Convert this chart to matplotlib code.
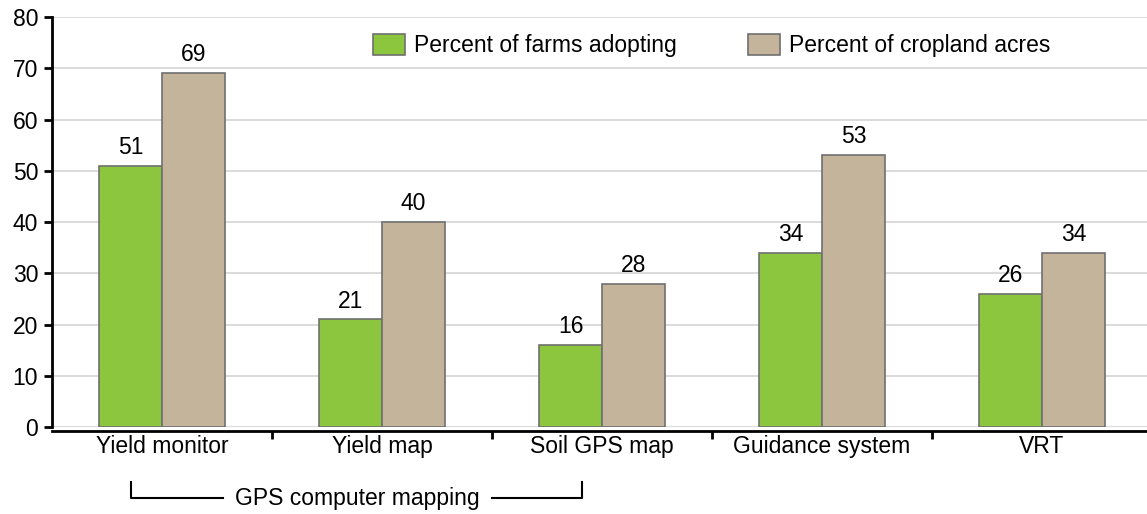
import numpy as np
import matplotlib.pyplot as plt
import matplotlib.transforms as mtransforms

plt.rcParams["font.family"] = ["Liberation Sans", "DejaVu Sans"]

categories = ["Yield monitor", "Yield map", "Soil GPS map", "Guidance system", "VRT"]
farms = [51, 21, 16, 34, 26]
acres = [69, 40, 28, 53, 34]
series_labels = ["Percent of farms adopting", "Percent of cropland acres"]

FS = 16.5

fig = plt.figure(figsize=(11.47, 5.14), dpi=100)
ax = fig.add_axes([52/1147, 0.169, 1100/1147, 0.798])

x = np.arange(len(categories))
w = 0.286
b1 = ax.bar(x - w/2, farms, width=w, color="#8cc63f", edgecolor="#707070",
            linewidth=1.2, label=series_labels[0], zorder=3)
b2 = ax.bar(x + w/2, acres, width=w, color="#c4b49b", edgecolor="#707070",
            linewidth=1.2, label=series_labels[1], zorder=3)

for bars, vals in [(b1, farms), (b2, acres)]:
    for b, v in zip(bars, vals):
        ax.annotate(f"{v}", (b.get_x() + b.get_width()/2, v), xytext=(0, 5),
                    textcoords="offset points", ha="center", va="bottom",
                    fontsize=FS)

ax.set_ylim(0, 80)
ax.set_xlim(-0.5, 4.5)
ax.set_yticks(range(0, 81, 10))
ax.yaxis.grid(True, color="#d4d4d4", linewidth=1.2, zorder=0)
ax.set_axisbelow(True)

ax.set_xticks(x)
ax.set_xticklabels(categories)
ax.set_xticks(np.arange(0.5, 4.0, 1.0), minor=True)
ax.tick_params(axis="x", which="major", length=0, pad=3, labelsize=FS)
ax.tick_params(axis="x", which="minor", length=6, width=2, direction="out")
ax.tick_params(axis="y", length=6, width=2, labelsize=FS, pad=4)

for s in ["top", "right"]:
    ax.spines[s].set_visible(False)
ax.spines["left"].set_linewidth(2)
ax.spines["bottom"].set_linewidth(2)
ax.spines["bottom"].set_position(("outward", 3))

ax.legend(loc="upper left", bbox_to_anchor=(0.273, 1.008), ncol=2, frameon=False,
          fontsize=FS, handlelength=1.4, handleheight=1.0, columnspacing=3.1,
          handletextpad=0.4)

# bracket for GPS computer mapping
trans = mtransforms.blended_transform_factory(ax.transData, ax.transAxes)
y_top, y_bot = -0.134, -0.173
ax.plot([-0.141, -0.141, 0.275], [y_top, y_bot, y_bot], color="black", lw=1.5,
        transform=trans, clip_on=False)
ax.plot([1.5, 1.909, 1.909], [y_bot, y_bot, y_top], color="black", lw=1.5,
        transform=trans, clip_on=False)
ax.text(0.89, y_bot, "GPS computer mapping", transform=trans, ha="center",
        va="center", fontsize=FS)

fig.savefig("out.png", dpi=100)
